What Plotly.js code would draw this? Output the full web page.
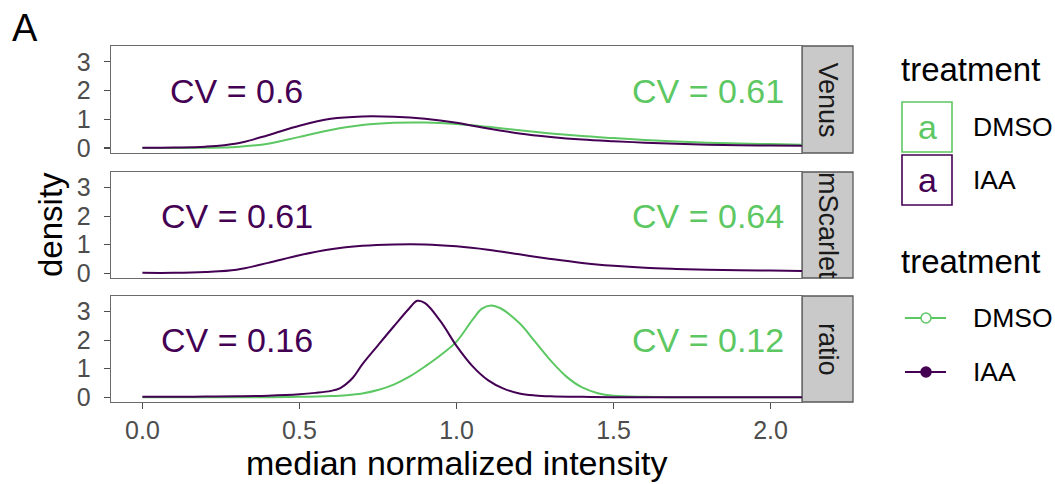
<!DOCTYPE html>
<html><head><meta charset="utf-8">
<script src="https://cdn.plot.ly/plotly-3.0.1.min.js"></script>
<style>html,body{margin:0;padding:0;background:#fff}#chart{width:1055px;height:484px}</style>
</head><body><div id="chart"></div>
<script>
// ---------- data ----------
const panels = ['Venus', 'mScarlet', 'ratio'];
const treatments = ['DMSO', 'IAA'];
const treatmentColors = ['#5DC863', '#440154'];

const xGrid = [0,0.1,0.2,0.3,0.4,0.5,0.6,0.7,0.8,0.9,1.0,1.1,1.2,1.3,1.4,1.5,1.6,1.7,1.8,1.9,2.0,2.1];
const venusDMSO = [0,0,0.01,0.04,0.15,0.39,0.63,0.8,0.88,0.89,0.84,0.74,0.62,0.51,0.42,0.35,0.28,0.23,0.19,0.16,0.14,0.12];
const venusIAA  = [0.01,0.02,0.05,0.16,0.45,0.78,1.02,1.1,1.09,1.02,0.88,0.68,0.51,0.39,0.3,0.24,0.19,0.15,0.12,0.1,0.09,0.08];
const mScarletIAA = [0.01,0.01,0.04,0.12,0.36,0.63,0.84,0.96,1.01,1.01,0.94,0.82,0.66,0.5,0.36,0.26,0.19,0.15,0.12,0.1,0.09,0.08];

const ratioXDMSO = [0,0.2,0.4,0.5,0.6,0.65,0.7,0.75,0.8,0.85,0.9,0.95,1.0,1.05,1.08,1.11,1.14,1.2,1.25,1.3,1.35,1.4,1.45,1.5,1.6,1.7,2.1];
const ratioDMSO  = [0,0,0,0.01,0.04,0.07,0.13,0.25,0.44,0.72,1.08,1.48,1.95,2.7,3.1,3.22,3.12,2.6,1.95,1.28,0.72,0.34,0.14,0.05,0.01,0,0];
const ratioXIAA  = [0,0.1,0.2,0.3,0.4,0.5,0.55,0.6,0.63,0.67,0.7,0.75,0.8,0.85,0.875,0.9,0.95,1.0,1.05,1.1,1.15,1.2,1.25,1.3,1.4,1.5,2.1];
const ratioIAA   = [0.01,0.01,0.02,0.03,0.05,0.1,0.15,0.22,0.32,0.68,1.15,1.82,2.48,3.12,3.38,3.3,2.65,1.8,1.1,0.6,0.3,0.13,0.06,0.03,0.01,0,0];

const cvIAA  = ['CV = 0.6', 'CV = 0.61', 'CV = 0.16'];
const cvDMSO = ['CV = 0.61', 'CV = 0.64', 'CV = 0.12'];
const cvX = [0.3, 1.8];
const cvY = 2;

const xTickVals = [0, 0.5, 1, 1.5, 2];
const xTickText = ['0.0', '0.5', '1.0', '1.5', '2.0'];
const yTickVals = [0, 1, 2, 3];
const yTickText = ['0', '1', '2', '3'];

// ---------- geometry helpers ----------
const FONT = 'Liberation Sans, Arial, Helvetica, sans-serif';
const L = 111, R = 802, T = 46, B = 402;
const px = v => (v - L) / (R - L);
const py = v => (B - v) / (B - T);

// ---------- traces ----------
const traces = [];
function addLine(x, y, ti, ax) {
  traces.push({
    x: x, y: y, type: 'scatter', mode: 'lines',
    line: {color: treatmentColors[ti], width: 2, shape: 'spline', smoothing: 1},
    xaxis: 'x' + ax, yaxis: 'y' + ax, showlegend: false, hoverinfo: 'skip'
  });
}
addLine(xGrid, venusDMSO, 0, '');
addLine(xGrid, venusIAA, 1, '');
addLine(xGrid, mScarletIAA, 1, '2');
addLine(ratioXDMSO, ratioDMSO, 0, '3');
addLine(ratioXIAA, ratioIAA, 1, '3');

// ---------- axes ----------
const yRange = [-0.17, 3.55];
const xRange = [-0.1, 2.1];
const lineCol = '#6b6b6b';
function xAxis(anchor, showTicks) {
  return {
    anchor: anchor, domain: [0, 1], range: xRange, showgrid: false, zeroline: false,
    showline: true, mirror: true, linecolor: lineCol, linewidth: 1.3,
    tickmode: 'array', tickvals: xTickVals, ticktext: xTickText,
    ticks: showTicks ? 'outside' : '', ticklen: 6, tickwidth: 1.3, tickcolor: '#4d4d4d',
    showticklabels: showTicks, ticklabelstandoff: 0,
    tickfont: {family: FONT, size: 25, color: '#4d4d4d'}, fixedrange: true
  };
}
function yAxis(anchor, dom) {
  return {
    anchor: anchor, domain: dom, range: yRange, showgrid: false, zeroline: false,
    showline: true, mirror: true, linecolor: lineCol, linewidth: 1.3,
    tickmode: 'array', tickvals: yTickVals, ticktext: yTickText,
    ticks: 'outside', ticklen: 6, tickwidth: 1.3, tickcolor: '#4d4d4d',
    ticklabelstandoff: 8,
    tickfont: {family: FONT, size: 25, color: '#4d4d4d'}, fixedrange: true
  };
}
const doms = [[py(153), 1], [py(278), py(172)], [0, py(296)]];

// ---------- shapes (strips, legend keys) ----------
const shapes = [];
const yRefs = ['y', 'y2', 'y3'];
yRefs.forEach(r => shapes.push({
  type: 'rect', xref: 'paper', yref: r + ' domain', x0: px(802), x1: px(853), y0: 0, y1: 1,
  fillcolor: '#c9c9c9', line: {color: '#5a5a5a', width: 1.3}, layer: 'below'
}));
// legend 1: text keys in boxes
const boxTop = [102, 155];
treatments.forEach((t, i) => shapes.push({
  type: 'rect', xref: 'paper', yref: 'paper', x0: px(902), x1: px(952),
  y0: py(boxTop[i] + 50), y1: py(boxTop[i]), fillcolor: 'rgba(0,0,0,0)',
  line: {color: treatmentColors[i], width: 1.6}
}));
// legend 2: line + point keys
const keyY = [318, 372];
treatments.forEach((t, i) => {
  shapes.push({type: 'line', xref: 'paper', yref: 'paper', x0: px(905), x1: px(946),
    y0: py(keyY[i]), y1: py(keyY[i]), line: {color: treatmentColors[i], width: 2}});
  shapes.push({type: 'circle', xref: 'paper', yref: 'paper', xsizemode: 'pixel', ysizemode: 'pixel',
    xanchor: px(926), yanchor: py(keyY[i]), x0: -5, x1: 5, y0: -5, y1: 5,
    fillcolor: i === 0 ? '#ffffff' : treatmentColors[i], line: {color: treatmentColors[i], width: 1.5}});
});

// ---------- annotations ----------
const ann = [];
const txt = (text, x, y, size, color, opts) => Object.assign({
  text: text, x: x, y: y, xref: 'paper', yref: 'paper', showarrow: false,
  font: {family: FONT, size: size, color: color}, xanchor: 'center', yanchor: 'middle'
}, opts || {});
ann.push(txt('A', px(25), py(28), 38, '#000000'));
ann.push(txt('density', px(50), py(225), 33, '#000000', {textangle: -90}));
ann.push(txt('median normalized intensity', px(456.5), py(463), 34, '#000000'));
panels.forEach((p, i) => {
  ann.push(txt(p, px(828), (doms[i][0] + doms[i][1]) / 2, 27, '#1a1a1a', {textangle: 90}));
  ann.push({text: cvIAA[i], x: cvX[0], y: cvY, xref: 'x' + (i ? i + 1 : ''), yref: yRefs[i],
    showarrow: false, font: {family: FONT, size: 34, color: treatmentColors[1]}});
  ann.push({text: cvDMSO[i], x: cvX[1], y: cvY, xref: 'x' + (i ? i + 1 : ''), yref: yRefs[i],
    showarrow: false, font: {family: FONT, size: 34, color: treatmentColors[0]}});
});
ann.push(txt('treatment', px(899), py(69), 33, '#000000', {xanchor: 'left'}));
ann.push(txt('treatment', px(899), py(261), 33, '#000000', {xanchor: 'left'}));
treatments.forEach((t, i) => {
  ann.push(txt('a', px(927), py(boxTop[i] + 25), 34, treatmentColors[i]));
  ann.push(txt(t, px(971), py(boxTop[i] + 25), 26.5, '#000000', {xanchor: 'left'}));
  ann.push(txt(t, px(971), py(keyY[i]), 26.5, '#000000', {xanchor: 'left'}));
});

const layout = {
  width: 1055, height: 484,
  margin: {l: L, r: 1055 - R, t: T, b: 484 - B, pad: 0},
  paper_bgcolor: '#ffffff', plot_bgcolor: '#ffffff',
  showlegend: false,
  font: {family: FONT},
  xaxis: xAxis('y', false), yaxis: yAxis('x', doms[0]),
  xaxis2: xAxis('y2', false), yaxis2: yAxis('x2', doms[1]),
  xaxis3: xAxis('y3', true), yaxis3: yAxis('x3', doms[2]),
  shapes: shapes, annotations: ann
};
Plotly.newPlot('chart', traces, layout, {displayModeBar: false, staticPlot: true});
</script></body></html>
